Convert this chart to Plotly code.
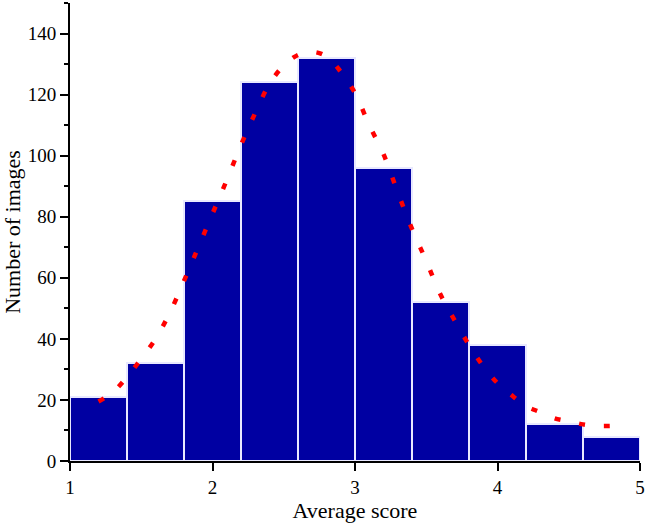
import plotly.graph_objects as go

# Histogram bins (left edges) and counts
bin_left = [1.0, 1.4, 1.8, 2.2, 2.6, 3.0, 3.4, 3.8, 4.2, 4.6]
counts = [21, 32, 85, 124, 132, 96, 52, 38, 12, 8]
bin_width = 0.4

# Fitted curve
curve_x = [1.2, 1.3, 1.4, 1.5, 1.6, 1.7, 1.8, 1.9, 2.0, 2.1, 2.2, 2.3, 2.4, 2.5,
           2.6, 2.7, 2.8, 2.9, 3.0, 3.1, 3.2, 3.3, 3.4, 3.5, 3.6, 3.7, 3.8, 3.9,
           4.0, 4.1, 4.2, 4.3, 4.4, 4.5, 4.6, 4.7, 4.8]
curve_y = [19.5, 22.5, 27.5, 33.5, 40, 48.5, 59, 70, 81, 92, 103.5, 114, 123.5, 129.5,
           133, 134, 132.5, 127.5, 120.5, 110, 100.5, 88, 76, 65.5, 54.5, 46, 38, 31,
           25.5, 21.5, 18, 16, 14, 13, 12, 11.5, 11.5]

x_ticks = [1, 2, 3, 4, 5]
y_ticks = [0, 20, 40, 60, 80, 100, 120, 140]

centers = [b + bin_width / 2 for b in bin_left]

fig = go.Figure()
fig.add_trace(go.Bar(
    x=centers, y=counts, width=[bin_width] * len(counts),
    marker=dict(color="#0000A2", line=dict(color="#E8E8FF", width=2)),
    showlegend=False,
))
fig.add_trace(go.Scatter(
    x=curve_x, y=curve_y, mode="lines",
    line=dict(color="#FF0000", width=4.5, dash="6px,19px", shape="spline"),
    showlegend=False,
))

font = "Liberation Serif"
fig.update_layout(
    width=646, height=525,
    margin=dict(l=70, r=6, t=3, b=64),
    paper_bgcolor="white", plot_bgcolor="white",
    font=dict(family=font, size=19, color="black"),
    bargap=0,
    xaxis=dict(
        range=[1, 5], tickvals=x_ticks, ticktext=[str(v) for v in x_ticks],
        showline=True, linecolor="black", linewidth=2,
        ticks="outside", ticklen=8, tickwidth=2, tickcolor="black",
        showgrid=False, zeroline=False, automargin=False,
        title=dict(text="Average score", font=dict(family=font, size=22), standoff=4),
        tickfont=dict(family=font, size=19),
    ),
    yaxis=dict(
        range=[0, 150], tickvals=y_ticks, ticktext=[str(v) for v in y_ticks],
        showline=True, linecolor="black", linewidth=2,
        ticks="outside", ticklen=8, tickwidth=2, tickcolor="black",
        minor=dict(ticks="outside", ticklen=4, tickwidth=2, tickcolor="black", dtick=10, showgrid=False),
        showgrid=False, zeroline=False, automargin=False,
        title=dict(text="Number of images", font=dict(family=font, size=22), standoff=4),
        tickfont=dict(family=font, size=19),
    ),
)

fig.write_html("out.html", config={"displayModeBar": False},
               post_script="document.body.style.margin='0';document.body.style.overflow='hidden';")
